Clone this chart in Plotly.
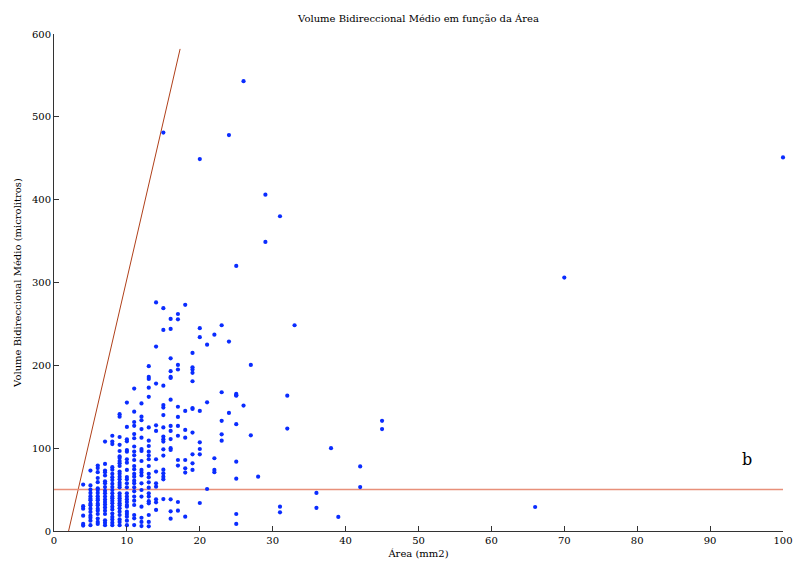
import plotly.graph_objects as go

# Area (mm2) of each sample and its mean bidirectional volume (microlitres)
area = (
    [4] * 6 + [5] * 15 + [6] * 19 + [7] * 20 + [8] * 23 + [9] * 29 + [10] * 24
    + [11] * 24 + [12] * 18 + [13] * 23 + [14] * 12 + [15] * 18 + [16] * 15
    + [17] * 12 + [18] * 8 + [19] * 11 + [20] * 8 + [21] * 3 + [22] * 4
    + [23] * 5 + [24] * 3 + [25] * 9 + [26] * 2 + [27] * 2 + [28] * 1
    + [29] * 2 + [31] * 3 + [32] * 2 + [33] * 1 + [36] * 2 + [38] * 1
    + [39] * 1 + [42] * 2 + [45] * 2 + [66] * 1 + [70] * 1 + [100] * 1
)

volume = [
    # 4
    56, 30, 27, 18.5, 8.5, 6.5,
    # 5
    73, 55, 50, 46, 42, 39, 37, 33, 31, 27, 23, 18.5, 16, 12.5, 7,
    # 6
    79, 76, 71, 64, 59, 51.5, 49.5, 46, 42, 39, 37, 33, 31, 27, 24.5, 20.5, 15, 11, 8.5,
    # 7
    108, 81, 73, 71, 67, 60, 57.5, 53, 48.5, 45.5, 41.5, 38, 35, 32, 28.5, 24.5, 20.5, 13, 10, 7,
    # 8
    115, 108, 105, 77, 74, 69, 65, 61.5, 57, 53, 49.5, 45.5, 41.5, 39.5, 36.6, 33.4, 29.4,
    26, 21, 17, 14, 10, 7,
    # 9
    141, 138, 113.5, 104, 96.6, 90, 88, 84.5, 81.7, 78.5, 71.7, 69, 65.6, 62.4, 58.4, 55.6,
    52.7, 45.5, 42.3, 39.5, 36.6, 33.4, 31, 27.4, 23.3, 19.3, 14, 11, 7,
    # 10
    155, 125.6, 110.7, 108.3, 97.8, 95.8, 86.6, 82.5, 73.7, 65.2, 62.4, 57.6, 52.7, 45.5,
    41.5, 38.2, 35, 31.4, 29.4, 23.3, 20.5, 17.3, 12.5, 7,
    # 11
    172, 144, 131.6, 127, 117, 112, 102, 96, 91.4, 85.7, 78.5, 74.5, 69, 65.6, 60.8, 57.6,
    52.7, 47.9, 41.5, 36.6, 31.4, 19.3, 15.3, 7.2,
    # 12
    154, 138, 133.7, 123, 112.7, 99, 96.6, 84.5, 73.7, 70.5, 67, 57.6, 49.5, 41.5, 29.4, 16, 11, 6,
    # 13
    199, 186, 183.6, 173, 162, 125, 109, 102.6, 95.8, 91, 86.6, 78.5, 69, 64.8, 58.8, 52.3,
    45.5, 41.5, 36, 33.4, 19.3, 11, 5.6,
    # 14
    276, 222.6, 178, 127.6, 120.8, 86.6, 71.7, 57.6, 53.5, 38.2, 34.6, 25.4,
    # 15
    481, 269, 242.7, 175.5, 152, 149, 140, 125, 114, 110.7, 108, 98.6, 91, 74, 69.6, 65.6, 62.4, 38.6,
    # 16
    256, 244, 208.5, 193, 186, 184.8, 158.6, 126.8, 120.8, 111, 100, 97.8, 38.2, 23.7, 14.9,
    # 17
    262, 255.6, 200.5, 195, 150, 137.7, 126.8, 115, 85.7, 79, 35, 24.5,
    # 18
    273, 145, 122, 112.7, 85.7, 75.7, 70.5, 17.3,
    # 19
    215, 197.7, 195, 191, 180.8, 148.5, 147.3, 118.8, 92.6, 81.7, 73.7,
    # 20
    449, 244.8, 234, 145, 107, 99, 92.6, 33.8,
    # 21
    225, 155.4, 50.7,
    # 22
    237, 87.8, 73.7, 70.9,
    # 23
    248.4, 167.5, 133, 116.7, 109,
    # 24
    478, 228.7, 142.5,
    # 25
    320, 165.5, 164, 163.4, 129, 83.7, 63.2, 20.5, 8.5,
    # 26
    543, 151.4,
    # 27
    200.5, 115.5,
    # 28
    65.6,
    # 29
    406, 349,
    # 31
    380, 29.4, 22.5,
    # 32
    163.4, 123.6,
    # 33
    248.4,
    # 36
    46, 28,
    # 38
    100,
    # 39
    17,
    # 42
    78, 53,
    # 45
    133, 123,
    # 66
    29,
    # 70
    306,
    # 100
    451,
]

# Reference lines
slope_line_x = [2.0, 17.3]
slope_line_y = [0, 582]
threshold_x = [0, 100]
threshold_y = [50, 50]

x_ticks = list(range(0, 101, 10))
y_ticks = list(range(0, 601, 100))

FONT = "DejaVu Serif"

fig = go.Figure()

fig.add_trace(go.Scatter(
    x=slope_line_x, y=slope_line_y, mode="lines",
    line=dict(color="#b0401a", width=1), hoverinfo="skip",
))
fig.add_trace(go.Scatter(
    x=threshold_x, y=threshold_y, mode="lines",
    line=dict(color="#e8907a", width=1.5), hoverinfo="skip",
))
fig.add_trace(go.Scatter(
    x=area, y=volume, mode="markers", cliponaxis=False,
    marker=dict(color="#0a2cff", size=4.2, line=dict(width=0)),
))

fig.add_annotation(
    x=95, y=86, text="b", showarrow=False,
    font=dict(family=FONT, size=16, color="black"),
)

axis_common = dict(
    showgrid=False, zeroline=False, showline=True, linecolor="#333",
    linewidth=1, ticks="inside", ticklen=5, tickcolor="#333",
    automargin=False,
    tickfont=dict(family=FONT, size=10, color="black"),
)

fig.update_layout(
    width=795, height=563,
    margin=dict(l=54, r=12, t=34, b=32),
    paper_bgcolor="white", plot_bgcolor="white",
    showlegend=False,
    title=dict(
        text="Volume Bidireccional Médio em função da Área",
        x=0.5265, xanchor="center", y=0.968, yanchor="middle",
        font=dict(family=FONT, size=10, color="black"),
    ),
    xaxis=dict(
        range=[0, 100], tickvals=x_ticks,
        title=dict(text="Área (mm2)", standoff=4,
                   font=dict(family=FONT, size=10, color="black")),
        **axis_common,
    ),
    yaxis=dict(
        range=[0, 600], tickvals=y_ticks,
        title=dict(text="Volume Bidireccional Médio (microlitros)", standoff=8,
                   font=dict(family=FONT, size=10, color="black")),
        **axis_common,
    ),
)

fig.write_html("out.html")
